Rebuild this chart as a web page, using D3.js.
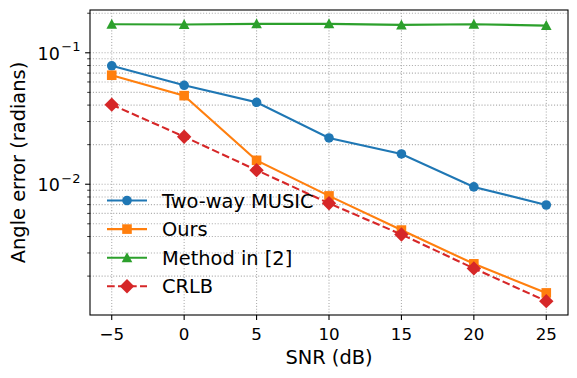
<!DOCTYPE html>
<head>
<meta charset="utf-8">
<script src="https://d3js.org/d3.v7.min.js"></script>
<style>
  * { margin: 0; padding: 0; }
  body { background: #fff; }
  text { font-family: 'DejaVu Sans', sans-serif; fill: #000; }
</style>
</head>
<body>
<svg id="chart"></svg>
<script>
// data
const snr = [-5, 0, 5, 10, 15, 20, 25];
const musicErr = [0.0796, 0.0566, 0.0420, 0.0225, 0.0170, 0.00954, 0.00695];
const oursErr = [0.0675, 0.0472, 0.0152, 0.00815, 0.00448, 0.00248, 0.00149];
const method2Err = [0.165, 0.164, 0.166, 0.166, 0.163, 0.165, 0.161];
const crlbErr = [0.0403, 0.0230, 0.0128, 0.00716, 0.00415, 0.00229, 0.00129];
const seriesNames = ["Two-way MUSIC", "Ours", "Method in [2]", "CRLB"];
const xTicks = [-5, 0, 5, 10, 15, 20, 25];

const W = 577, H = 378;
const plot = {left: 90, top: 10, right: 568, bottom: 315};

const svg = d3.select("#chart").attr("width", W).attr("height", H);

const series = [
  {name: seriesNames[0], vals: musicErr, color: "#1f77b4", marker: "circle", dash: null},
  {name: seriesNames[1], vals: oursErr, color: "#ff7f0e", marker: "square", dash: null},
  {name: seriesNames[2], vals: method2Err, color: "#2ca02c", marker: "triangle", dash: null},
  {name: seriesNames[3], vals: crlbErr, color: "#d62728", marker: "diamond", dash: "7.7,3.3"}
];

// matplotlib-like 5% margins
const xr = d3.extent(snr), xpad = (xr[1] - xr[0]) * 0.05;
const x = d3.scaleLinear().domain([xr[0] - xpad, xr[1] + xpad]).range([plot.left, plot.right]);

const allY = series.flatMap(s => s.vals);
const lmin = Math.log10(d3.min(allY)), lmax = Math.log10(d3.max(allY));
const lpad = (lmax - lmin) * 0.05;
const y = d3.scaleLog().domain([10 ** (lmin - lpad), 10 ** (lmax + lpad)]).range([plot.bottom, plot.top]);

// log ticks
const [y0, y1] = y.domain();
const majorY = [], minorY = [];
for (let e = Math.floor(Math.log10(y0)); e <= Math.ceil(Math.log10(y1)); e++) {
  for (let m = 1; m < 10; m++) {
    const v = m * 10 ** e;
    if (v < y0 || v > y1) continue;
    (m === 1 ? majorY : minorY).push({v, e});
  }
}

// grid
const grid = svg.append("g").attr("stroke", "#b0b0b0").attr("stroke-width", 1.1)
  .attr("stroke-dasharray", "1.1,1.8");
grid.selectAll("line.gx").data(xTicks).join("line")
  .attr("x1", d => x(d)).attr("x2", d => x(d))
  .attr("y1", plot.top).attr("y2", plot.bottom);
grid.selectAll("line.gy").data(majorY.concat(minorY)).join("line")
  .attr("x1", plot.left).attr("x2", plot.right)
  .attr("y1", d => y(d.v)).attr("y2", d => y(d.v));

// lines and markers
const line = d3.line().x((d, i) => x(snr[i])).y(d => y(d));

function drawMarker(g, type, color) {
  if (type === "circle") {
    g.append("circle").attr("r", 4.8).attr("fill", color);
  } else if (type === "square") {
    g.append("rect").attr("x", -4.8).attr("y", -4.8).attr("width", 9.6).attr("height", 9.6).attr("fill", color);
  } else if (type === "triangle") {
    g.append("path").attr("d", "M0,-5.5L5.3,4.5L-5.3,4.5Z").attr("fill", color);
  } else {
    g.append("path").attr("d", "M0,-7.2L7.2,0L0,7.2L-7.2,0Z").attr("fill", color);
  }
}

series.forEach(s => {
  svg.append("path").datum(s.vals)
    .attr("d", line).attr("fill", "none")
    .attr("stroke", s.color).attr("stroke-width", 2.1)
    .attr("stroke-dasharray", s.dash);
  s.vals.forEach((v, i) => {
    const g = svg.append("g").attr("transform", `translate(${x(snr[i])},${y(v)})`);
    drawMarker(g, s.marker, s.color);
  });
});

// frame
svg.append("rect").attr("x", plot.left).attr("y", plot.top)
  .attr("width", plot.right - plot.left).attr("height", plot.bottom - plot.top)
  .attr("fill", "none").attr("stroke", "#000").attr("stroke-width", 1.1);

// x axis ticks
const xa = svg.append("g");
xTicks.forEach(t => {
  xa.append("line").attr("x1", x(t)).attr("x2", x(t))
    .attr("y1", plot.bottom).attr("y2", plot.bottom + 4.9).attr("stroke", "#000").attr("stroke-width", 1.1);
  xa.append("text").attr("x", x(t)).attr("y", plot.bottom + 24.5)
    .attr("text-anchor", "middle").attr("font-size", 16.7)
    .text(d3.format("")(t));
});

// y axis ticks
const ya = svg.append("g");
majorY.forEach(d => {
  ya.append("line").attr("x1", plot.left - 4.9).attr("x2", plot.left)
    .attr("y1", y(d.v)).attr("y2", y(d.v)).attr("stroke", "#000").attr("stroke-width", 1.1);
  const t = ya.append("text").attr("x", plot.left - 9.5).attr("y", y(d.v) + 7)
    .attr("text-anchor", "end").attr("font-size", 17.5);
  t.append("tspan").text("10");
  t.append("tspan").attr("font-size", 13).attr("dx", 1.5).attr("dy", -8.5).text("\u2212" + Math.abs(d.e));
});
minorY.forEach(d => {
  ya.append("line").attr("x1", plot.left - 2.8).attr("x2", plot.left)
    .attr("y1", y(d.v)).attr("y2", y(d.v)).attr("stroke", "#000").attr("stroke-width", 0.8);
});

// axis labels
svg.append("text").attr("x", (plot.left + plot.right) / 2).attr("y", 364)
  .attr("text-anchor", "middle").attr("font-size", 19.4).text("SNR (dB)");
svg.append("text")
  .attr("transform", `translate(25,${(plot.top + plot.bottom) / 2}) rotate(-90)`)
  .attr("text-anchor", "middle").attr("font-size", 19.4).text("Angle error (radians)");

// legend
const leg = svg.append("g").attr("transform", "translate(107,200.5)");
series.forEach((s, i) => {
  const g = leg.append("g").attr("transform", `translate(0,${i * 28.6})`);
  g.append("line").attr("x1", 0).attr("x2", 40).attr("y1", 0).attr("y2", 0)
    .attr("stroke", s.color).attr("stroke-width", 2.1).attr("stroke-dasharray", s.dash);
  const m = g.append("g").attr("transform", "translate(20,0)");
  drawMarker(m, s.marker, s.color);
  g.append("text").attr("x", 55).attr("y", 7).attr("font-size", 19.4).text(s.name);
});
</script>
</body>
